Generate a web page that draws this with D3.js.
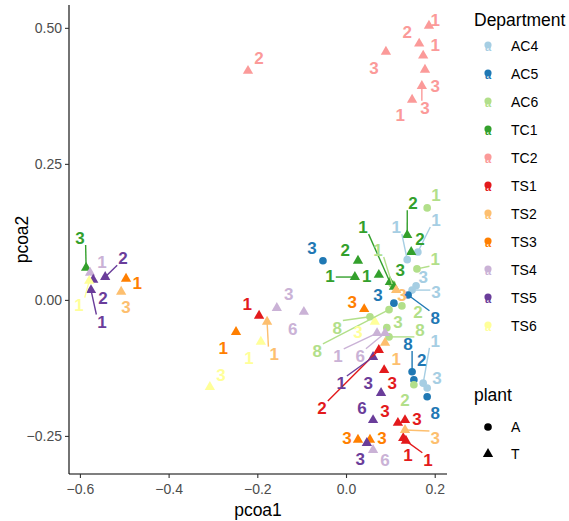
<!DOCTYPE html>
<html>
<head>
<meta charset="utf-8">
<script src="https://cdn.jsdelivr.net/npm/d3@7"></script>
<style>
  body { margin: 0; background: #fff; }
  text { font-family: "Liberation Sans", Arial, sans-serif; }
</style>
</head>
<body>
<div id="chart"></div>
<script>
const departments = ["AC4", "AC5", "AC6", "TC1", "TC2", "TS1", "TS2", "TS3", "TS4", "TS5", "TS6"];
const deptColors = ["#A6CEE3", "#1F78B4", "#B2DF8A", "#33A02C", "#FB9A99", "#E31A1C", "#FDBF6F", "#FF7F00", "#CAB2D6", "#6A3D9A", "#FFFF99"];
const deptPlant = ["A", "A", "A", "T", "T", "T", "T", "T", "T", "T", "T"];
const plants = ["A", "T"];
const xTicks = [-0.6, -0.4, -0.2, 0.0, 0.2];
const yTicks = [-0.25, 0.0, 0.25, 0.5];

// each row: pcoa1, pcoa2, label, where the repelled label ended up (pcoa1, pcoa2), segment drawn (1/0)
const AC4 = [
    [0.162, 0.088, "1", 0.203, 0.147, 1],
    [0.138, 0.074, "1", 0.113, 0.134, 1],
    [0.158, 0.026, "3", 0.174, 0.042, 0],
    [0.149, 0.018, "3", 0.203, 0.015, 1],
    [0.174, -0.153, "1", 0.201, -0.075, 1],
    [0.183, -0.162, "3", 0.205, -0.143, 0]
];
const AC5 = [
    [-0.052, 0.072, "3", -0.077, 0.096, 0],
    [0.140, 0.009, "8", 0.201, -0.033, 1],
    [0.108, -0.006, "3", 0.072, 0.009, 0],
    [0.149, -0.132, "8", 0.140, -0.081, 1],
    [0.153, -0.147, "2", 0.171, -0.110, 0],
    [0.183, -0.178, "8", 0.201, -0.208, 0]
];
const AC6 = [
    [0.183, 0.169, "1", 0.203, 0.193, 0],
    [0.160, 0.057, "1", 0.201, 0.075, 1],
    [0.104, 0.029, "1", 0.072, 0.092, 1],
    [0.097, -0.018, "8", -0.065, -0.094, 1],
    [0.054, -0.031, "8", -0.020, -0.051, 1],
    [0.092, -0.051, "3", 0.117, -0.040, 0],
    [0.097, -0.068, "8", 0.167, -0.055, 1],
    [0.153, -0.156, "2", 0.133, -0.184, 0],
    [0.126, -0.011, "2", 0.162, -0.022, 0]
];
const TC1 = [
    [-0.586, 0.059, "3", -0.600, 0.114, 1],
    [0.027, 0.072, "2", -0.002, 0.092, 0],
    [0.020, 0.042, "1", -0.036, 0.044, 1],
    [0.074, 0.046, "1", 0.047, 0.044, 0],
    [0.099, 0.033, "1", 0.038, 0.134, 1],
    [0.108, 0.024, "3", 0.122, 0.055, 0],
    [0.138, 0.119, "2", 0.151, 0.178, 1],
    [0.147, 0.088, "2", 0.167, 0.112, 0]
];
const TC2 = [
    [-0.221, 0.421, "2", -0.196, 0.445, 0],
    [0.090, 0.456, "3", 0.063, 0.426, 0],
    [0.187, 0.504, "1", 0.201, 0.515, 0],
    [0.165, 0.471, "2", 0.138, 0.493, 0],
    [0.174, 0.449, "1", 0.201, 0.469, 0],
    [0.178, 0.423, "3", 0.201, 0.393, 0],
    [0.171, 0.393, "3", 0.178, 0.353, 1],
    [0.149, 0.368, "1", 0.122, 0.340, 0]
];
const TS1 = [
    [-0.196, -0.029, "1", -0.223, -0.007, 0],
    [0.074, -0.092, "2", -0.054, -0.199, 1],
    [0.086, -0.129, "3", 0.104, -0.153, 0],
    [0.117, -0.226, "3", 0.088, -0.204, 0],
    [0.133, -0.221, "3", 0.160, -0.219, 0],
    [0.129, -0.254, "1", 0.140, -0.285, 0],
    [0.135, -0.259, "1", 0.185, -0.294, 1]
];
const TS2 = [
    [-0.507, 0.015, "3", -0.496, -0.013, 0],
    [-0.178, -0.040, "1", -0.162, -0.099, 1],
    [0.113, 0.018, "3", 0.126, 0.009, 0],
    [0.088, -0.079, "1", 0.113, -0.108, 0],
    [0.133, -0.239, "3", 0.201, -0.254, 1]
];
const TS3 = [
    [-0.496, 0.039, "1", -0.471, 0.031, 0],
    [-0.248, -0.059, "1", -0.277, -0.088, 0],
    [0.041, -0.017, "3", 0.014, -0.004, 0],
    [0.027, -0.257, "3", 0.002, -0.254, 0],
    [0.054, -0.257, "3", 0.081, -0.254, 0]
];
const TS4 = [
    [-0.577, 0.050, "1", -0.550, 0.070, 0],
    [-0.156, -0.015, "3", -0.129, 0.011, 0],
    [-0.095, -0.022, "6", -0.120, -0.053, 0],
    [0.070, -0.061, "1", -0.018, -0.103, 1],
    [0.088, -0.061, "6", 0.032, -0.103, 1],
    [0.061, -0.276, "6", 0.088, -0.294, 0]
];
const TS5 = [
    [-0.543, 0.042, "2", -0.503, 0.077, 1],
    [-0.570, 0.037, "2", -0.548, 0.004, 0],
    [-0.575, 0.018, "1", -0.550, -0.040, 1],
    [0.061, -0.105, "1", -0.011, -0.153, 1],
    [0.079, -0.171, "3", 0.050, -0.153, 0],
    [0.061, -0.221, "6", 0.036, -0.199, 0],
    [0.047, -0.263, "3", 0.032, -0.292, 0]
];
const TS6 = [
    [-0.579, 0.035, "1", -0.602, -0.009, 1],
    [-0.192, -0.077, "1", -0.219, -0.107, 0],
    [-0.307, -0.160, "3", -0.282, -0.138, 0],
    [0.065, -0.040, "3", 0.027, -0.059, 0]
];
const deptRows = [AC4, AC5, AC6, TC1, TC2, TS1, TS2, TS3, TS4, TS5, TS6];

const W = 569, H = 521;
const panel = {left: 69, right: 447, top: 5, bottom: 474};
const labelSize = 17;

const svg = d3.select("#chart").append("svg")
    .attr("width", W)
    .attr("height", H);

const x = d3.scaleLinear().domain([-0.6246, 0.2277]).range([panel.left, panel.right]);
const y = d3.scaleLinear().domain([-0.32, 0.542]).range([panel.bottom, panel.top]);
const color = d3.scaleOrdinal().domain(departments).range(deptColors);
const shape = d3.scaleOrdinal().domain(plants).range([d3.symbolCircle, d3.symbolTriangle]);
const shapeSize = {A: 46, T: 46};

const data = [];
deptRows.forEach((rows, i) => {
    rows.forEach(r => {
        data.push({dept: departments[i], plant: deptPlant[i], pcoa1: r[0], pcoa2: r[1],
            label: r[2], lx: r[3], ly: r[4], seg: r[5] === 1});
    });
});

// axes (theme_classic look)
const xAxis = svg.append("g")
    .attr("transform", `translate(0,${panel.bottom})`)
    .call(d3.axisBottom(x).tickValues(xTicks).tickFormat(d3.format(".1f")).tickSize(4).tickSizeOuter(0));
const yAxis = svg.append("g")
    .attr("transform", `translate(${panel.left},0)`)
    .call(d3.axisLeft(y).tickValues(yTicks).tickFormat(d3.format(".2f")).tickSize(4).tickSizeOuter(0));
[xAxis, yAxis].forEach(g => {
    g.select(".domain").attr("stroke", "#000").attr("stroke-width", 1.1);
    g.selectAll(".tick line").attr("stroke", "#333").attr("stroke-width", 1.1);
    g.selectAll(".tick text").attr("fill", "#4D4D4D").style("font-size", "14px")
        .style("font-family", "'Liberation Sans', Arial, sans-serif");
});
xAxis.selectAll(".tick text").attr("dy", "0.95em");
xAxis.select(".domain").attr("d", `M${panel.left},0H${panel.right}`);
yAxis.select(".domain").attr("d", `M0,${panel.top}V${panel.bottom}`);
yAxis.selectAll(".tick text").attr("x", -7);

svg.append("text")
    .attr("x", (panel.left + panel.right) / 2)
    .attr("y", 516)
    .attr("text-anchor", "middle")
    .style("font-size", "17.5px")
    .text("pcoa1");
svg.append("text")
    .attr("transform", `translate(28,${(panel.top + panel.bottom) / 2}) rotate(-90)`)
    .attr("text-anchor", "middle")
    .style("font-size", "17.5px")
    .text("pcoa2");

// points
svg.append("g").selectAll("path")
    .data(data)
    .join("path")
    .attr("transform", d => `translate(${x(d.pcoa1)},${y(d.pcoa2)})`)
    .attr("d", d => d3.symbol(shape(d.plant), shapeSize[d.plant])())
    .attr("fill", d => color(d.dept));

// repel segments: from the nearest edge of the label box to the point
function segmentFor(d) {
    const px = x(d.pcoa1), py = y(d.pcoa2);
    const cx = x(d.lx), cy = y(d.ly);
    const hw = labelSize * 0.556 * d.label.length / 2 + 1, hh = labelSize * 0.42;
    const qx = Math.max(cx - hw, Math.min(px, cx + hw));
    const qy = Math.max(cy - hh, Math.min(py, cy + hh));
    return {x1: qx, y1: qy, x2: px, y2: py};
}
svg.append("g").selectAll("line")
    .data(data.filter(d => d.seg))
    .join("line")
    .each(function (d) {
        const s = segmentFor(d);
        d3.select(this).attr("x1", s.x1).attr("y1", s.y1).attr("x2", s.x2).attr("y2", s.y2);
    })
    .attr("stroke", d => color(d.dept))
    .attr("stroke-width", 1.4);

svg.append("g").selectAll("text")
    .data(data)
    .join("text")
    .attr("x", d => x(d.lx))
    .attr("y", d => y(d.ly))
    .attr("text-anchor", "middle")
    .attr("dy", "0.36em")
    .style("font-size", labelSize + "px")
    .style("font-weight", "bold")
    .attr("fill", d => color(d.dept))
    .text(d => d.label);

// legends
const legX = 474, keyX = 488, labX = 511;
svg.append("text").attr("x", legX).attr("y", 26).style("font-size", "17.5px").text("Department");
const deptKeys = svg.append("g").selectAll("g")
    .data(departments)
    .join("g")
    .attr("transform", (d, i) => `translate(0,${46 + i * 28})`);
deptKeys.append("path")
    .attr("transform", `translate(${keyX},-1)`)
    .attr("d", d3.symbol(d3.symbolCircle, 40)())
    .attr("fill", d => color(d));
deptKeys.append("text")
    .attr("x", keyX).attr("y", 4.5)
    .attr("text-anchor", "middle")
    .style("font-size", "11px").style("font-weight", "bold")
    .attr("fill", d => color(d))
    .text("a");
deptKeys.append("text")
    .attr("x", labX).attr("dy", "0.36em")
    .style("font-size", "14px")
    .text(d => d);

svg.append("text").attr("x", legX).attr("y", 401).style("font-size", "17.5px").text("plant");
const plantKeys = svg.append("g").selectAll("g")
    .data(plants)
    .join("g")
    .attr("transform", (d, i) => `translate(0,${427 + i * 27})`);
plantKeys.append("path")
    .attr("transform", `translate(${keyX},0)`)
    .attr("d", d => d3.symbol(shape(d), shapeSize[d])())
    .attr("fill", "#000");
plantKeys.append("text")
    .attr("x", labX).attr("dy", "0.36em")
    .style("font-size", "14px")
    .text(d => d);
</script>
</body>
</html>
